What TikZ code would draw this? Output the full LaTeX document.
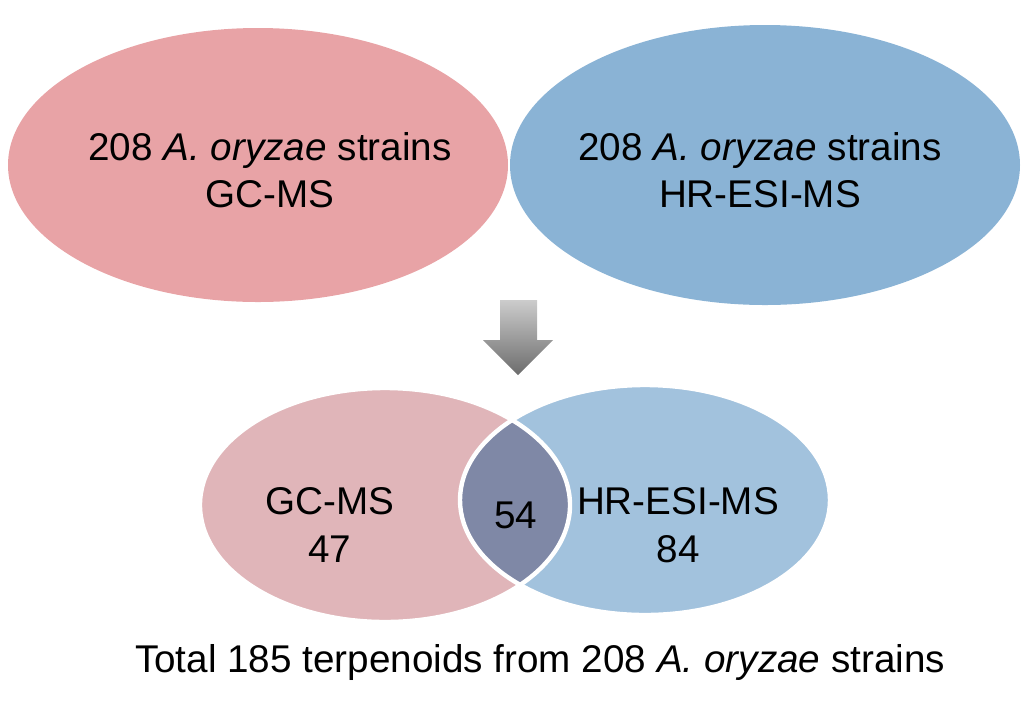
\documentclass[tikz,border=0pt]{standalone}
\usepackage{fontspec}
\setmainfont{Liberation Sans}
\begin{document}
\begin{tikzpicture}[x=0.02cm,y=-0.02cm,
  lbl/.style={font=\fontsize{22}{27}\selectfont,align=center}]
\useasboundingbox (0,0) rectangle (1028,708);
\definecolor{pinkA}{HTML}{E8A3A6}
\definecolor{blueA}{HTML}{8AB3D5}
\definecolor{pinkB}{HTML}{E0B5B9}
\definecolor{blueB}{HTML}{A2C2DD}
\definecolor{midC}{HTML}{7F88A6}
\fill[pinkA] (258,165) ellipse [x radius=250,y radius=137];
\fill[blueA] (765,165) ellipse [x radius=255,y radius=140];
\node[lbl] (t1) at (270,170) {208 \textit{A. oryzae} strains\\GC-MS};
\node[lbl] (t2) at (760,170) {208 \textit{A. oryzae} strains\\HR-ESI-MS};
\shade[top color=gray!40,bottom color=gray!85!black]
  (500,300) -- (537,300) -- (537,340) -- (553,340) -- (518,375) -- (483,340) -- (500,340) -- cycle;
\fill[pinkB] (385,505) ellipse [x radius=185,y radius=117];
\fill[blueB] (645,500) ellipse [x radius=185,y radius=115];
\begin{scope}
\clip (385,505) ellipse [x radius=185,y radius=117];
\fill[midC] (645,500) ellipse [x radius=185,y radius=115];
\end{scope}
\draw[white,line width=2.5pt] (385,505) ellipse [x radius=185,y radius=117];
\draw[white,line width=2.5pt] (645,500) ellipse [x radius=185,y radius=115];
\node[lbl] (a) at (330,525) {GC-MS\\47};
\node[lbl] (b) at (516,515) {54};
\node[lbl] (c) at (678,525) {HR-ESI-MS\\84};
\node[lbl] (tot) at (540,662) {Total 185 terpenoids from 208 \textit{A. oryzae} strains};
\end{tikzpicture}
\end{document}
